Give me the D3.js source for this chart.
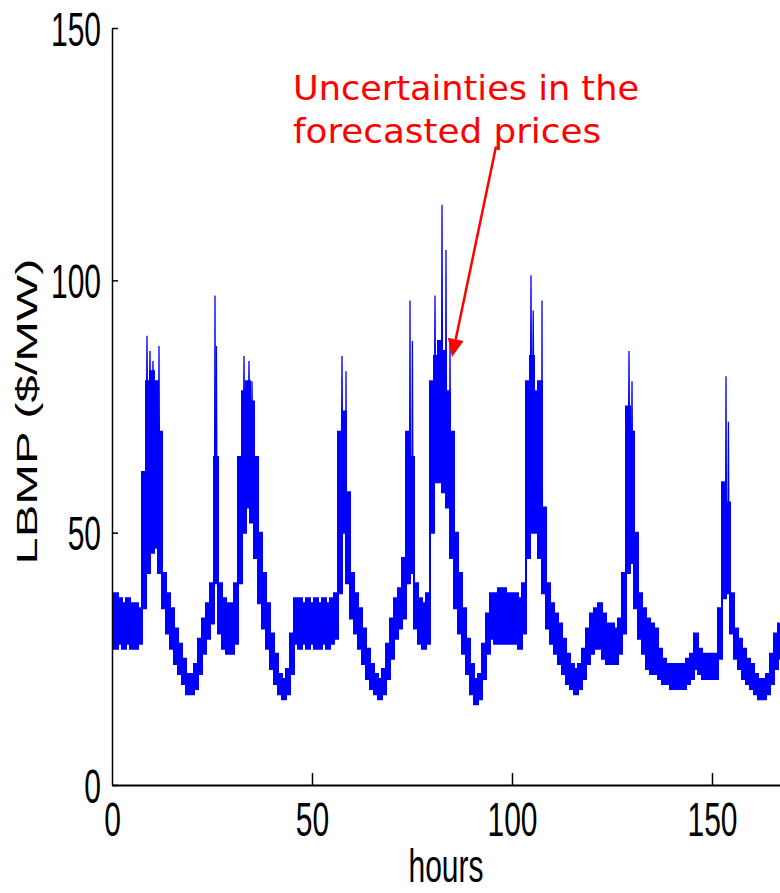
<!DOCTYPE html>
<html>
<head>
<meta charset="utf-8">
<script src="https://cdn.jsdelivr.net/npm/d3@7"></script>
<style>
  html, body { margin: 0; padding: 0; background: #ffffff; }
  svg { display: block; }
</style>
</head>
<body>
<svg id="chart" width="780" height="893"></svg>
<script>
// ---- data ----
const hours = d3.range(0, 168);           // hourly index 0..167
const xTicks = [0, 50, 100, 150];
const yTicks = [0, 50, 100, 150];

// lower edge of the scenario band, $/MW, one value per hour
const lowBand = [
  28,27,28,27,28,27,27,28,35,42, 46,47,42,35,30,27,24,22,20,18,
  18,19,22,26,29,32,40,30,27,26, 26,28,40,50,55,52,45,36,31,27,
  23,20,18,17,18,22,28,27,28,27, 28,27,27,28,27,28,29,38,50,40,
  33,30,27,24,21,19,18,17,18,21, 25,29,31,33,40,42,31,28,27,28,
  50,60,60,58,55,45,35,30,26,22, 18,16,17,21,26,29,28,28,28,28,
  28,28,27,30,45,50,50,45,38,31, 28,26,24,22,20,19,18,19,21,24,
  26,27,27,25,24,24,24,26,30,42, 44,35,29,26,23,22,22,21,20,20,
  19,19,19,19,20,21,23,22,21,21, 21,21,25,37,38,30,25,23,21,20,
  19,18,17,17,18,20,23,25
];
// upper edge of the dense scenario band
const highBand = [
  37,38,37,36,37,36,36,35,62,80, 82,80,70,42,38,35,31,28,25,22,
  22,24,29,33,36,40,65,40,37,36, 36,40,65,78,80,76,65,50,42,36,
  30,26,22,21,23,30,37,37,36,37, 36,37,36,37,36,37,38,70,74,58,
  42,38,35,31,27,24,22,21,23,28, 33,37,39,45,70,65,40,37,36,38,
  80,85,88,86,78,70,50,42,35,29, 24,21,22,28,34,38,38,39,39,38,
  38,38,37,40,80,85,78,80,55,40, 36,34,32,29,26,24,23,24,27,31,
  34,35,36,34,32,32,31,33,42,75, 70,50,38,35,33,32,31,27,25,24,
  24,24,24,24,25,26,30,27,26,26, 26,26,35,60,56,38,31,29,27,25,
  24,22,21,21,22,26,30,32
];
// isolated scenario spikes above the band: hour, price
const spikeHours  = [8.75, 9.5, 10.25, 11.75, 25.75, 26.1, 33, 34.25, 35, 57.5, 58.5, 74.5, 75.1, 80.75, 82.5, 83.5, 84.5, 104.75, 105.3, 107.5, 129.25, 130, 153.5, 154.1];
const spikeValues = [89, 86, 84, 87, 97, 87, 85, 84, 80, 85, 82, 96, 88, 97, 115, 106, 88, 101, 94, 96, 86, 80, 81, 72];

const annotationLines = ["Uncertainties in the", "forecasted prices"];

// ---- layout ----
const svg = d3.select("#chart");
const x = d3.scaleLinear().domain([0, 167]).range([112, 780]);
const y = d3.scaleLinear().domain([0, 150]).range([785, 28]);
const BLUE = "#0000ff";

svg.append("defs").append("clipPath").attr("id", "plotclip")
  .append("rect").attr("x", 113).attr("y", 0).attr("width", 667).attr("height", 784);

const plot = svg.append("g").attr("clip-path", "url(#plotclip)");

// band (stepped, like densely sampled scenario traces)
const band = d3.area()
  .curve(d3.curveStep)
  .x((d, i) => x(hours[i]))
  .y0((d, i) => y(lowBand[i]))
  .y1((d, i) => y(highBand[i]));
plot.append("path")
  .datum(hours)
  .attr("d", band)
  .attr("fill", BLUE)
  .attr("stroke", BLUE)
  .attr("stroke-width", 2)
  .attr("stroke-linejoin", "miter");

// spikes
const spikeLine = d3.line().x(d => x(d[0])).y(d => y(d[1]));
spikeHours.forEach((h, i) => {
  const base = highBand[Math.round(h)] - 5;
  plot.append("path")
    .attr("d", spikeLine([[h - 0.12, base], [h, spikeValues[i]], [h + 0.12, base]]))
    .attr("fill", "none")
    .attr("stroke", BLUE)
    .attr("stroke-width", 1.3);
});

// ---- axes (MATLAB style, ticks pointing in) ----
const axisFont = "'Liberation Sans', Arial, Helvetica, sans-serif";
const yAxis = svg.append("g")
  .attr("transform", `translate(${x(0)},0)`)
  .call(d3.axisLeft(y).tickValues(yTicks).tickSize(-6).tickSizeOuter(0).tickPadding(11));
yAxis.select(".domain").attr("stroke", "#000").attr("stroke-width", 1.5);
yAxis.selectAll(".tick line").attr("stroke", "#000").attr("stroke-width", 1.5);
yAxis.selectAll(".tick text")
  .attr("font-family", axisFont).attr("font-size", 30).attr("fill", "#000")
  .attr("dy", "0.36em")
  .attr("transform", "scale(1,1.6)");

const xAxis = svg.append("g")
  .attr("transform", `translate(0,${y(0)})`)
  .call(d3.axisBottom(x).tickValues(xTicks).tickSize(-12).tickSizeOuter(0));
xAxis.select(".domain").attr("stroke", "#000").attr("stroke-width", 2);
xAxis.selectAll(".tick line").attr("stroke", "#000").attr("stroke-width", 1.5);
xAxis.selectAll(".tick text")
  .attr("font-family", axisFont).attr("font-size", 30).attr("fill", "#000")
  .attr("y", 32).attr("dy", 0)
  .attr("transform", "scale(1,1.6)");
xAxis.select(".tick line").filter(d => d === 0).remove();

// axis titles
svg.append("text")
  .attr("transform", `translate(446,882) scale(1,1.55)`)
  .attr("text-anchor", "middle")
  .attr("font-family", axisFont).attr("font-size", 30).attr("fill", "#000")
  .text("hours");

svg.append("text")
  .attr("transform", `translate(37,${y(74)}) rotate(-90) scale(1.63,1)`)
  .attr("text-anchor", "middle")
  .attr("font-family", axisFont).attr("font-size", 30).attr("fill", "#000")
  .text("LBMP ($/MW)");

// ---- annotation ----
const RED = "#ff0000";
const annFont = "'Comic Sans MS', 'DejaVu Sans', sans-serif";
const annX = x(45.25);
const annY = [y(135.7), y(127.2)];
const annW = [346, 308];
annotationLines.forEach((t, i) => {
  svg.append("text")
    .attr("x", annX).attr("y", annY[i])
    .attr("font-family", annFont).attr("font-size", 33).attr("fill", RED)
    .attr("textLength", annW[i]).attr("lengthAdjust", "spacingAndGlyphs")
    .text(t);
});

// arrow: from below the text down to the tallest peak
const ax0 = x(96), ay0 = y(126.5), ax1 = x(85), ay1 = y(84.8);
const ang = Math.atan2(ay1 - ay0, ax1 - ax0);
const headLen = 18, headHalf = 8;
const bx = ax1 - headLen * Math.cos(ang), by = ay1 - headLen * Math.sin(ang);
svg.append("line")
  .attr("x1", ax0).attr("y1", ay0).attr("x2", bx).attr("y2", by)
  .attr("stroke", RED).attr("stroke-width", 2.5);
svg.append("path")
  .attr("d", `M${ax1},${ay1} L${bx + headHalf * Math.sin(ang)},${by - headHalf * Math.cos(ang)} L${bx - headHalf * Math.sin(ang)},${by + headHalf * Math.cos(ang)} Z`)
  .attr("fill", RED);
</script>
</body>
</html>
